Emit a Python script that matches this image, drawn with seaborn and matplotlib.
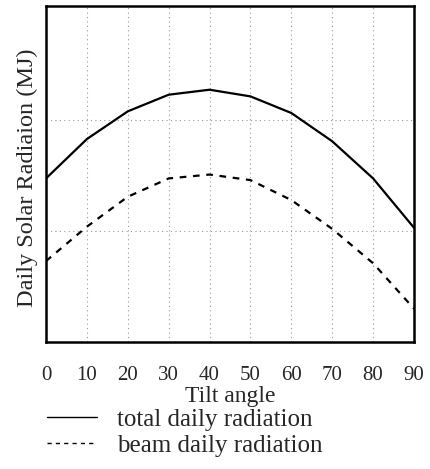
import numpy as np
import pandas as pd
import matplotlib
matplotlib.use("Agg")
import matplotlib.pyplot as plt
import seaborn as sns

tilt = [0, 10, 20, 30, 40, 50, 60, 70, 80, 90]
total_daily = [14.75, 18.3, 20.8, 22.3, 22.75, 22.15, 20.65, 18.1, 14.75, 10.3]
beam_daily = [7.3, 10.4, 13.1, 14.75, 15.1, 14.6, 12.8, 10.2, 7.1, 3.0]
xticks = [0, 10, 20, 30, 40, 50, 60, 70, 80, 90]

sns.set_style("white")
plt.rcParams['font.family'] = ['Liberation Serif', 'DejaVu Serif']

fig = plt.figure(figsize=(4.31, 4.69), dpi=100)
ax = fig.add_axes([46/431, 1-342/469, (414-46)/431, (342-6)/469])

df = pd.DataFrame({"Tilt angle": tilt * 2,
                   "value": total_daily + beam_daily,
                   "series": ["total daily radiation"] * len(tilt) + ["beam daily radiation"] * len(tilt)})

sns.lineplot(data=df[df.series == "total daily radiation"], x="Tilt angle", y="value",
             color="black", linewidth=1.6, ax=ax, label="total daily radiation")
sns.lineplot(data=df[df.series == "beam daily radiation"], x="Tilt angle", y="value",
             color="black", linewidth=1.6, ax=ax, label="beam daily radiation",
             linestyle=(0, (3, 3)))

ax.set_xlim(0, 90)
ax.set_ylim(0, 30.3)
ax.set_xticks(xticks)
ax.set_xticklabels([str(t) for t in xticks], fontsize=15)
ax.set_yticks([10, 20])
ax.set_yticklabels([])
ax.tick_params(axis='both', length=0, pad=17)
ax.grid(True, color="#999999", linestyle=(0, (1, 3)), linewidth=0.8)
for s in ax.spines.values():
    s.set_color("black")
    s.set_linewidth(1.8)

ax.set_xlabel("Tilt angle", fontsize=17, labelpad=1)
ax.set_ylabel("Daily Solar Radiaion (MJ)", fontsize=17.5)
ax.yaxis.set_label_coords(-0.022, 0.488)

leg = ax.legend(loc="upper left", bbox_to_anchor=(47/431, 1-408/469),
                bbox_transform=fig.transFigure, frameon=False, fontsize=18,
                handlelength=2.0, handletextpad=0.8, labelspacing=0.15,
                borderaxespad=0, borderpad=0)
for h in leg.get_lines():
    h.set_linewidth(1.0)

fig.savefig("out.png", dpi=100)
